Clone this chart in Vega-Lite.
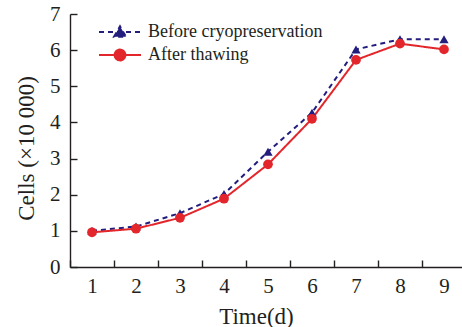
{
  "$schema": "https://vega.github.io/schema/vega-lite/v6.json",
  "autosize": {"type": "none"},
  "padding": {"left": 70, "top": 14, "right": 0, "bottom": 60},
  "width": 392,
  "height": 253,
  "background": "white",
  "config": {
    "view": {"stroke": null},
    "font": "Liberation Serif",
    "axis": {"grid": false, "domainColor": "#231f20", "domainWidth": 1.4, "tickColor": "#231f20", "tickWidth": 1.4, "labelColor": "#231f20", "titleColor": "#231f20", "labelFont": "Liberation Serif", "titleFont": "Liberation Serif", "titleFontWeight": "normal"}
  },
  "data": {
    "values": [
      {"day": "1", "series": "Before cryopreservation", "cells": 1.0},
      {"day": "2", "series": "Before cryopreservation", "cells": 1.12},
      {"day": "3", "series": "Before cryopreservation", "cells": 1.49},
      {"day": "4", "series": "Before cryopreservation", "cells": 2.02},
      {"day": "5", "series": "Before cryopreservation", "cells": 3.19},
      {"day": "6", "series": "Before cryopreservation", "cells": 4.27},
      {"day": "7", "series": "Before cryopreservation", "cells": 6.02},
      {"day": "8", "series": "Before cryopreservation", "cells": 6.3},
      {"day": "9", "series": "Before cryopreservation", "cells": 6.3},
      {"day": "1", "series": "After thawing", "cells": 0.96},
      {"day": "2", "series": "After thawing", "cells": 1.06},
      {"day": "3", "series": "After thawing", "cells": 1.36},
      {"day": "4", "series": "After thawing", "cells": 1.89},
      {"day": "5", "series": "After thawing", "cells": 2.84},
      {"day": "6", "series": "After thawing", "cells": 4.1},
      {"day": "7", "series": "After thawing", "cells": 5.73},
      {"day": "8", "series": "After thawing", "cells": 6.18},
      {"day": "9", "series": "After thawing", "cells": 6.02}
    ]
  },
  "encoding": {
    "x": {
      "field": "day", "type": "ordinal",
      "scale": {"type": "band", "paddingInner": 0, "paddingOuter": 0, "range": [0, 396]},
      "axis": {"title": "Time(d)", "labelAngle": 0, "tickBand": "extent", "tickSize": -7, "labelFontSize": 21, "labelPadding": 15, "labelDx": 3, "titleFontSize": 23, "titleX": 186, "titleY": 56, "titleBaseline": "alphabetic", "titleAlign": "center"}
    },
    "y": {
      "field": "cells", "type": "quantitative",
      "scale": {"domain": [0, 7], "nice": false},
      "axis": {"title": "Cells (×10 000)", "values": [0, 1, 2, 3, 4, 5, 6, 7], "tickSize": -7, "labelFontSize": 21, "labelPadding": 17, "titleFontSize": 23, "titleAngle": -90, "titleX": -37, "titleY": 134, "titleBaseline": "alphabetic", "titleAlign": "center"}
    }
  },
  "layer": [
    {
      "mark": {"type": "line", "strokeWidth": 2},
      "encoding": {
        "strokeDash": {"field": "series", "type": "nominal", "scale": {"domain": ["Before cryopreservation", "After thawing"], "range": [[5, 4], [1, 0]]}, "legend": null},
        "color": {
          "field": "series", "type": "nominal",
          "scale": {"domain": ["Before cryopreservation", "After thawing"], "range": ["#231d7d", "#e3262b"]},
          "legend": {
            "title": null, "orient": "none", "legendX": 41, "legendY": 9, "padding": 0,
            "labelFontSize": 18, "labelFont": "Liberation Serif", "labelColor": "#231f20", "labelOffset": 19, "labelLimit": 0,
            "symbolSize": 144, "rowPadding": 4,
            "encode": {
              "symbols": {
                "update": {
                  "shape": [{"test": "datum.value === 'Before cryopreservation'", "value": "M-3.5,0H3.5M-1,0.8L0,-0.95L1,0.8Z"}, {"value": "M-3.5,0H3.5M0.9,0A0.9,0.9 0 1 1 -0.9,0A0.9,0.9 0 1 1 0.9,0Z"}],
                  "strokeDash": [{"test": "datum.value === 'Before cryopreservation'", "value": [5, 4]}, {"value": [1, 0]}],
                  "fill": [{"test": "datum.value === 'Before cryopreservation'", "value": "#231d7d"}, {"value": "#e3262b"}],
                  "stroke": [{"test": "datum.value === 'Before cryopreservation'", "value": "#231d7d"}, {"value": "#e3262b"}],
                  "strokeWidth": {"value": 2},
                  "opacity": {"value": 1},
                  "fillOpacity": {"value": 1}
                }
              }
            }
          }
        }
      }
    },
    {
      "mark": {"type": "point", "filled": true, "opacity": 1},
      "encoding": {
        "shape": {"condition": {"test": "datum.series === 'After thawing'", "value": "circle"}, "value": "triangle-up"},
        "size": {"condition": {"test": "datum.series === 'After thawing'", "value": 95}, "value": 85},
        "color": {"field": "series", "type": "nominal", "scale": {"domain": ["Before cryopreservation", "After thawing"], "range": ["#231d7d", "#e3262b"]}, "legend": null}
      }
    }
  ]
}
